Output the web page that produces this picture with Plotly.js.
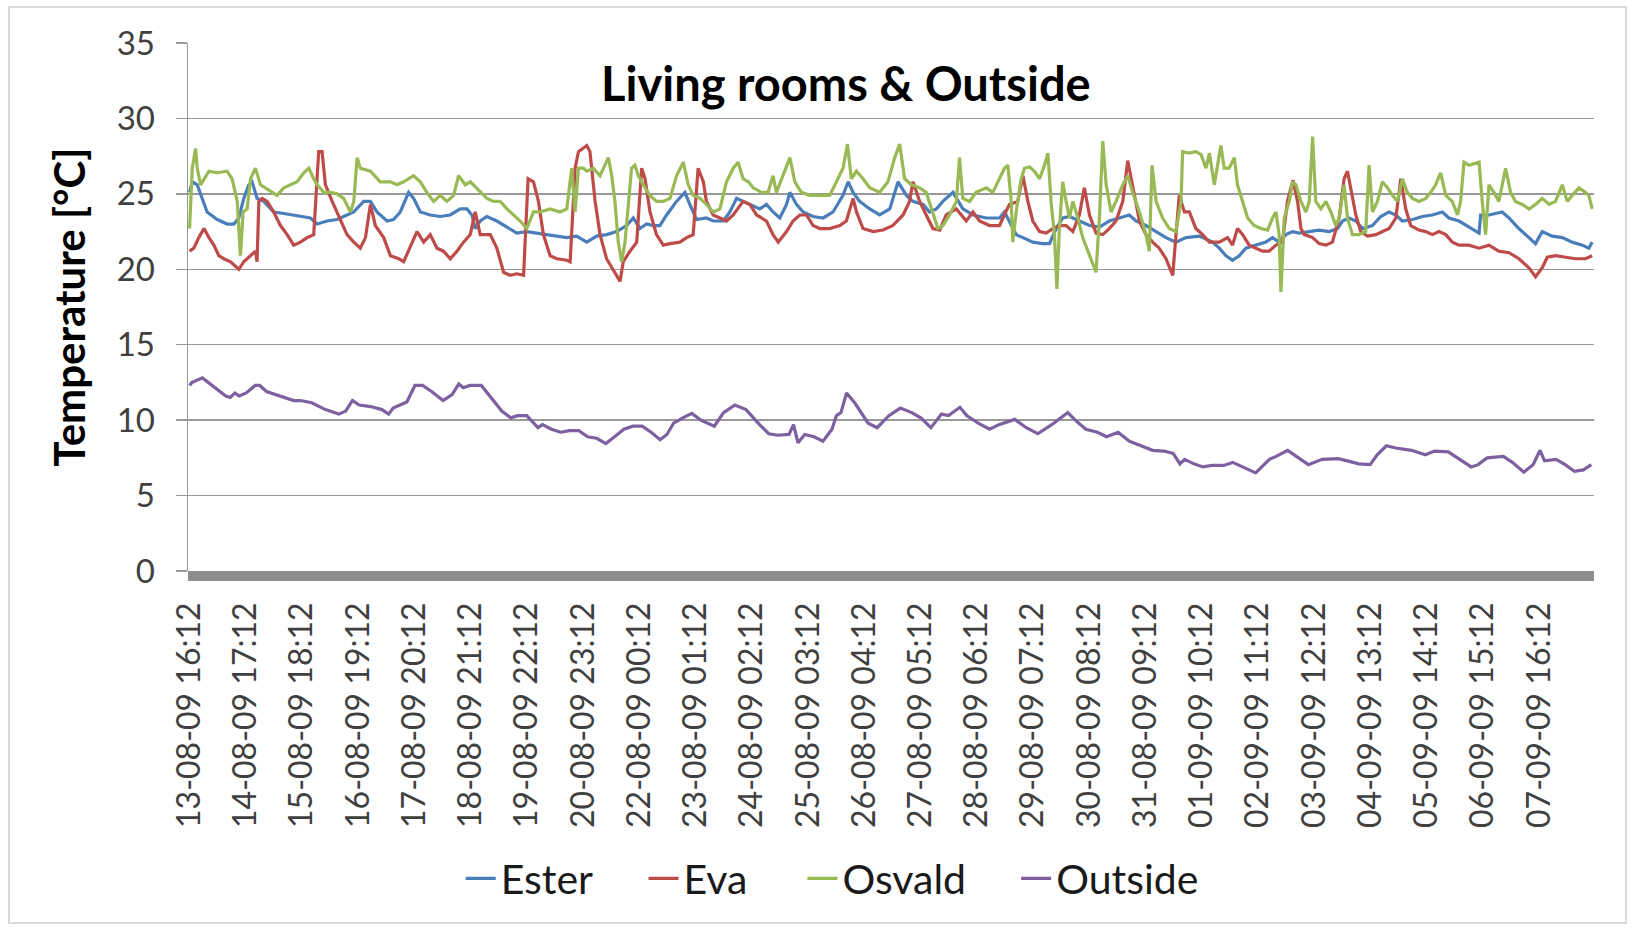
<!DOCTYPE html>
<html><head><meta charset="utf-8">
<script src="https://cdn.plot.ly/plotly-3.0.1.min.js"></script>
<style>
html,body{margin:0;padding:0;background:#fff;}
#chart{position:absolute;left:0;top:0;width:1633px;height:928px;}
#frame{position:absolute;left:8px;top:6px;width:1615px;height:914px;border:2px solid #d9d9d9;pointer-events:none;z-index:10;}
</style>
</head><body>
<div id="chart"></div><div id="frame"></div>
<script>
// Tick labels: one every 25 hourly readings
const tickLabels = ['13-08-09 16:12','14-08-09 17:12','15-08-09 18:12','16-08-09 19:12','17-08-09 20:12','18-08-09 21:12','19-08-09 22:12','20-08-09 23:12','22-08-09 00:12','23-08-09 01:12','24-08-09 02:12','25-08-09 03:12','26-08-09 04:12','27-08-09 05:12','28-08-09 06:12','29-08-09 07:12','30-08-09 08:12','31-08-09 09:12','01-09-09 10:12','02-09-09 11:12','03-09-09 12:12','04-09-09 13:12','05-09-09 14:12','06-09-09 15:12','07-09-09 16:12'];
const tickHours = [0,25,50,75,100,125,150,175,200,225,250,275,300,325,350,375,400,425,450,475,500,525,550,575,600];

// Hours since 13-08-09 16:12 and temperatures (°C)
const esterHours = [0,1.2,3.4,5.6,7.8,12.3,16.7,19.7,21.9,24.1,26.3,27.8,30.0,33.0,37.4,41.9,46.3,50.8,53.7,56.7,61.1,65.6,70.0,73.0,77.4,80.4,83.3,87.8,90.7,93.7,97.4,99.6,102.6,107.0,111.5,115.9,120.3,123.3,125.5,127.0,129.2,132.2,136.6,141.1,145.5,149.9,154.4,158.8,163.3,167.7,172.1,176.6,181.0,185.4,189.9,194.3,197.3,200.2,203.2,206.2,209.1,212.1,216.5,220.2,222.4,225.4,229.8,232.8,237.3,240.2,243.2,246.1,249.1,253.5,256.5,259.4,262.4,265.4,266.9,269.8,272.8,277.2,281.7,286.1,290.5,292.8,295.0,297.9,302.4,306.8,311.3,315.0,318.7,321.6,326.1,329.0,332.0,334.9,337.9,339.4,343.8,348.3,354.2,360.1,362.3,364.5,367.5,370.5,374.9,379.3,382.3,385.3,388.2,391.2,395.6,400.1,404.5,408.9,413.4,417.8,420.8,425.2,429.7,434.1,438.5,443.0,448.9,454.8,457.8,460.8,463.7,466.7,469.6,474.1,478.5,481.5,484.4,487.4,490.4,493.3,497.8,502.2,506.7,510.4,512.6,515.5,518.5,521.5,525.9,529.6,533.3,536.3,539.2,543.7,548.1,552.5,557.0,559.9,564.4,568.8,573.3,574.0,577.7,583.6,586.6,591.0,595.5,598.4,601.4,605.8,610.3,614.7,619.2,622.1,623.6];
const esterTemp = [25.1,25.8,25.6,24.7,23.8,23.3,23.0,23.0,23.4,24.7,25.6,25.8,24.7,24.5,23.8,23.7,23.6,23.5,23.4,23.0,23.2,23.3,23.6,23.8,24.5,24.5,23.8,23.2,23.3,23.8,25.1,24.7,23.8,23.6,23.5,23.6,24.0,24.0,23.6,22.7,23.2,23.5,23.2,22.8,22.4,22.5,22.4,22.3,22.2,22.1,22.2,21.8,22.2,22.3,22.5,22.9,23.4,22.7,23.0,22.9,22.9,23.6,24.5,25.1,24.3,23.3,23.4,23.2,23.2,23.8,24.7,24.5,24.3,24.0,24.3,23.8,23.4,24.3,25.1,24.3,23.8,23.5,23.4,23.8,24.9,25.8,25.1,24.5,24.0,23.6,24.0,25.8,24.9,24.5,24.3,23.8,24.0,24.5,24.9,25.1,24.0,23.6,23.4,23.4,23.8,23.2,22.3,22.1,21.8,21.7,21.7,22.7,23.4,23.5,23.2,22.9,22.8,23.2,23.4,23.6,23.2,22.9,22.5,22.1,21.8,22.1,22.2,21.8,21.4,20.9,20.6,20.9,21.4,21.6,21.8,22.1,21.8,22.3,22.5,22.4,22.5,22.6,22.5,22.7,23.2,23.4,23.2,22.7,22.9,23.5,23.8,23.6,23.2,23.3,23.5,23.6,23.8,23.4,23.2,22.8,22.4,23.6,23.6,23.8,23.4,22.7,22.1,21.7,22.5,22.2,22.1,21.8,21.6,21.4,21.8];

const evaHours = [0,1.9,4.1,6.4,8.6,10.8,13.0,15.2,18.2,21.9,24.1,27.1,29.3,30.0,30.8,32.3,34.5,37.4,40.4,43.4,46.3,49.3,52.3,55.2,57.4,58.9,60.4,63.4,67.1,70.0,73.0,75.9,78.2,80.4,82.6,86.3,89.3,93.0,95.2,97.4,101.1,104.1,107.0,110.0,112.9,115.9,118.9,121.8,124.8,127.0,129.2,133.7,136.6,139.6,142.5,145.5,148.5,150.5,152.9,155.1,157.3,160.3,163.3,167.7,169.2,171.4,172.9,176.6,178.0,180.3,182.5,185.4,188.4,191.4,192.8,195.8,198.8,201.0,202.5,204.7,207.6,210.6,213.6,218.0,221.0,223.9,226.1,228.4,229.8,232.8,235.8,238.7,241.7,246.1,249.1,252.1,256.5,259.4,261.7,265.4,268.3,271.3,274.3,277.2,280.2,284.6,289.1,292.0,295.0,296.5,299.4,303.9,308.3,312.7,317.2,320.1,321.6,324.6,327.5,330.5,333.5,336.4,340.9,345.3,348.3,351.2,355.7,360.1,361.6,364.5,368.2,370.5,372.7,374.9,377.9,380.8,383.8,386.7,389.7,392.7,395.6,397.8,400.1,403.0,406.0,408.9,411.9,414.9,417.1,419.3,422.3,425.2,428.2,431.1,434.1,437.1,438.5,440.0,442.3,444.5,447.4,450.4,453.4,457.8,461.5,463.7,465.9,468.2,471.1,474.1,477.0,480.0,483.0,485.9,488.1,490.6,492.6,494.1,495.6,499.3,502.2,505.2,508.1,511.1,513.3,514.8,516.3,518.5,520.7,523.7,527.4,530.3,533.3,536.3,538.5,540.7,542.9,546.6,549.6,552.5,555.5,558.5,561.4,564.4,568.8,573.3,577.7,582.1,586.6,591.0,595.5,598.4,601.4,603.6,607.3,611.8,616.2,620.6,623.6];
const evaTemp = [21.2,21.4,22.1,22.7,22.1,21.6,20.9,20.7,20.5,20.0,20.5,20.9,21.2,20.5,24.5,24.7,24.5,23.8,22.9,22.3,21.6,21.8,22.1,22.3,27.8,27.8,25.6,24.5,23.2,22.3,21.8,21.4,22.1,24.3,22.9,22.1,20.9,20.7,20.5,21.2,22.5,21.8,22.3,21.4,21.2,20.7,21.2,21.8,22.3,23.8,22.3,22.3,21.4,19.8,19.6,19.7,19.6,26.0,25.8,24.5,22.3,20.9,20.7,20.6,20.5,26.7,27.8,28.2,27.8,24.5,22.3,20.7,19.9,19.2,20.5,21.2,21.8,26.7,26.0,23.8,22.3,21.6,21.7,21.8,22.1,22.3,26.7,25.8,24.5,23.6,23.4,23.2,23.6,24.5,24.3,23.6,23.2,22.3,21.8,22.5,23.2,23.6,23.6,22.9,22.7,22.7,22.9,23.2,24.7,23.8,22.7,22.5,22.6,22.9,23.6,24.5,25.8,24.5,23.6,22.7,22.6,23.6,24.0,23.2,23.8,23.2,22.9,22.9,23.4,24.3,24.5,26.2,24.5,23.2,22.5,22.4,22.7,22.9,22.9,22.5,23.6,25.4,23.6,22.4,22.3,22.7,23.2,24.5,27.2,25.6,23.2,22.3,21.8,21.4,20.7,19.6,22.3,24.9,23.8,23.8,22.7,22.3,21.8,21.8,22.1,21.6,22.7,22.3,21.6,21.4,21.2,21.2,21.6,21.8,24.5,25.9,24.5,22.7,22.3,22.1,21.7,21.6,21.8,23.4,26.0,26.5,25.4,23.6,22.5,22.2,22.3,22.5,22.7,23.4,26.0,24.0,22.9,22.6,22.5,22.3,22.5,22.3,21.8,21.6,21.6,21.4,21.6,21.2,21.1,20.7,20.1,19.5,20.1,20.8,20.9,20.8,20.7,20.7,20.9];

const osvaldHours = [0,1.2,2.7,3.4,4.9,6.4,8.6,12.3,16.7,18.9,21.2,21.9,22.6,23.8,25.6,27.1,29.3,31.5,34.5,38.9,41.9,44.8,47.8,50.8,53.0,55.2,56.7,59.7,62.6,65.6,68.5,71.5,73.0,74.5,75.9,80.4,84.8,89.3,92.2,95.2,99.6,102.6,105.5,108.5,111.5,114.4,117.4,119.6,122.6,124.8,129.2,132.2,135.1,138.1,141.1,144.0,147.0,149.9,152.9,155.9,160.3,164.7,167.7,169.9,171.4,172.9,175.1,176.6,179.5,182.5,186.2,187.7,189.1,190.6,192.1,193.6,195.1,196.5,198.0,199.5,201.7,204.7,207.6,210.6,213.6,216.5,219.5,221.7,223.9,226.9,229.8,232.8,235.8,238.7,241.7,243.9,246.1,248.4,250.6,254.3,257.2,259.4,260.9,263.9,266.9,269.1,272.0,275.7,280.2,284.6,287.6,290.5,292.5,294.2,296.5,299.4,302.4,306.8,310.5,313.5,315.7,317.9,320.9,324.6,327.5,330.5,332.7,334.9,337.9,340.9,342.3,343.8,346.8,349.7,354.2,357.1,360.1,362.3,363.8,365.3,366.0,367.5,369.7,371.2,373.4,375.6,377.9,380.1,381.6,383.0,384.5,385.6,386.7,388.2,389.7,391.2,392.7,394.9,397.1,400.1,403.0,404.5,406.0,407.5,409.7,411.9,414.9,417.1,419.3,422.3,425.2,426.7,427.9,429.7,432.6,435.6,438.5,440.8,441.5,444.5,447.4,449.7,451.9,453.4,455.6,458.5,460.0,462.2,464.5,465.9,468.2,470.4,473.3,476.3,479.3,481.5,483.0,484.4,485.2,486.7,488.9,490.4,491.9,494.1,496.3,497.8,499.3,500.7,503.0,505.2,507.4,509.6,511.1,513.3,514.8,517.0,520.0,522.9,524.4,525.9,528.1,530.3,532.6,534.8,537.0,539.2,541.4,543.7,546.6,549.6,551.8,554.0,556.2,558.5,561.4,563.7,565.1,566.6,568.8,571.1,573.3,574.7,576.2,577.7,579.9,582.1,585.1,587.3,589.5,592.5,595.5,598.4,601.4,604.4,607.3,610.3,612.5,614.7,617.7,620.6,622.1,623.6];
const osvaldTemp = [22.7,26.7,28.0,26.7,25.6,26.0,26.5,26.4,26.5,26.0,24.5,22.7,20.9,23.8,24.0,26.0,26.7,25.6,25.3,24.9,25.4,25.6,25.8,26.4,26.7,26.0,25.6,25.1,25.1,25.0,24.7,23.8,24.5,27.4,26.7,26.5,25.8,25.8,25.6,25.8,26.2,25.8,25.1,24.5,24.9,24.5,24.9,26.2,25.6,25.8,25.1,24.7,24.5,24.5,24.0,23.6,23.2,22.7,23.8,23.8,24.0,23.8,24.0,26.7,23.8,26.7,26.7,26.5,26.7,26.2,27.4,26.2,24.5,21.8,20.5,21.8,24.5,26.7,26.9,26.2,25.6,24.9,24.5,24.5,24.7,26.2,27.1,25.6,24.9,24.7,24.3,23.8,24.0,25.8,26.7,27.1,26.0,25.8,25.4,25.1,25.1,26.2,25.1,26.2,27.4,25.8,25.1,24.9,24.9,24.9,25.8,26.7,28.3,26.0,26.5,26.0,25.4,25.1,25.8,27.4,28.3,26.0,25.6,25.4,25.1,23.8,22.7,22.9,23.6,24.5,27.4,24.7,24.5,25.1,25.4,25.1,26.0,26.7,26.9,24.5,21.8,23.8,26.0,26.7,26.8,26.5,26.0,26.9,27.7,24.5,22.3,18.7,22.7,25.8,24.5,23.4,24.5,23.4,22.1,20.9,19.8,23.4,28.5,25.6,23.8,24.5,25.6,26.2,25.1,23.8,22.3,21.2,26.9,24.5,23.4,22.7,22.5,24.5,27.8,27.7,27.8,27.6,26.7,27.7,25.6,28.2,26.7,26.7,27.4,25.6,24.5,23.4,22.9,22.7,22.6,23.4,23.8,22.3,18.5,23.4,24.5,25.8,25.6,24.5,23.8,24.5,28.8,24.5,24.0,24.5,23.8,22.9,23.4,25.6,23.4,22.3,22.3,22.5,26.9,23.8,24.5,25.8,25.4,24.9,24.5,26.0,25.1,24.7,24.5,24.7,25.1,25.6,26.4,24.9,24.5,23.6,24.5,27.1,26.9,27.0,27.1,24.5,22.3,25.6,25.1,24.5,26.7,25.1,24.5,24.3,24.0,24.3,24.7,24.3,24.5,25.6,24.5,24.9,25.4,25.1,24.9,24.0];

const outsideHours = [0,1.0,5.7,10.1,16.1,18.1,20.1,22.1,25.2,29.2,31.2,34.2,40.2,46.3,49.3,54.3,60.4,66.4,69.4,72.4,75.4,80.5,85.5,88.5,90.5,93.5,96.6,100.2,103.6,107.6,112.7,116.7,119.7,121.7,124.7,129.7,134.8,138.8,142.8,145.8,149.9,151.9,154.9,156.9,160.9,164.9,169.0,173.0,177.0,181.0,185.1,188.1,193.1,197.1,201.2,205.2,209.2,212.2,215.2,219.3,223.3,227.3,233.3,237.4,242.4,247.4,253.4,257.5,261.5,266.5,268.5,270.5,273.5,277.6,281.6,285.6,287.6,289.6,292.1,295.7,301.7,305.7,310.9,316.0,321.1,325.1,329.6,334.3,337.4,342.5,345.5,350.6,355.7,359.8,366.9,372.0,377.1,383.3,390.4,394.5,398.5,403.6,407.7,412.8,417.9,423.0,428.1,433.2,437.3,440.3,442.4,446.5,450.5,454.6,459.7,463.8,468.9,474.0,480.1,483.1,488.2,492.3,497.4,503.5,510.7,514.8,519.8,524.9,528.0,532.1,536.2,543.3,549.4,553.5,559.6,564.7,569.8,572.9,576.9,584.1,588.1,593.2,597.3,600.4,602.4,607.5,611.6,615.7,619.7,623.2];
const outsideTemp = [12.3,12.5,12.8,12.3,11.6,11.5,11.8,11.6,11.8,12.3,12.3,11.9,11.6,11.3,11.3,11.15,10.7,10.4,10.6,11.3,11.0,10.9,10.7,10.4,10.8,11.0,11.2,12.3,12.3,11.9,11.3,11.7,12.4,12.15,12.3,12.3,11.3,10.6,10.15,10.3,10.3,10.0,9.5,9.7,9.4,9.2,9.3,9.3,8.9,8.8,8.45,8.8,9.4,9.6,9.6,9.2,8.7,9.05,9.8,10.15,10.45,10.0,9.6,10.5,11.0,10.7,9.7,9.1,9.0,9.05,9.7,8.5,9.05,8.9,8.6,9.4,10.3,10.5,11.8,11.15,9.8,9.5,10.3,10.8,10.5,10.15,9.5,10.4,10.3,10.85,10.3,9.8,9.4,9.7,10.05,9.5,9.1,9.7,10.5,9.9,9.4,9.2,8.9,9.2,8.6,8.3,8.0,7.95,7.8,7.1,7.4,7.1,6.9,7.0,7.0,7.2,6.85,6.5,7.4,7.6,8.0,7.6,7.05,7.4,7.45,7.3,7.1,7.05,7.7,8.3,8.15,8.0,7.7,7.95,7.9,7.4,6.9,7.05,7.5,7.6,7.2,6.55,7.05,8.0,7.3,7.4,7.05,6.6,6.7,7.05];

const FONT = 'Lato, "Open Sans", sans-serif';
function series(name, x, y, color, legendId) {
  return {type:'scatter', mode:'lines', name:name, x:x, y:y, legend:legendId,
          line:{color:color, width:3.2}, hoverinfo:'skip'};
}
const traces = [
  series('Ester', esterHours, esterTemp, '#4A7EBB', 'legend'),
  series('Eva', evaHours, evaTemp, '#BE4B48', 'legend2'),
  series('Osvald', osvaldHours, osvaldTemp, '#98B954', 'legend3'),
  series('Outside', outsideHours, outsideTemp, '#7D60A0', 'legend4')
];

function legendAt(x) {
  return {orientation:'h', x:x, xanchor:'left', y:-0.583, yanchor:'middle',
          font:{family:FONT, size:41, color:'#1a1a1a'}, bgcolor:'rgba(0,0,0,0)',
          borderwidth:0, itemwidth:30};
}

const layout = {
  width:1633, height:928,
  margin:{l:188, r:39, t:43, b:357, pad:0},
  paper_bgcolor:'#ffffff', plot_bgcolor:'#ffffff',
  font:{family:FONT, color:'#404040'},
  showlegend:true,
  title:{text:'Living rooms & Outside', xref:'container', yref:'container',
         x:0.518, y:0.909, xanchor:'center', yanchor:'middle',
         font:{family:FONT, size:47, weight:700, color:'#000000'}},
  xaxis:{type:'linear', range:[-0.7, 624.4], tickmode:'array',
         tickvals:tickHours, ticktext:tickLabels, tickangle:-90,
         tickfont:{family:FONT, size:32, color:'#404040'},
         showgrid:false, zeroline:false, showline:false, ticks:'',
         ticklabelstandoff:24, fixedrange:true},
  yaxis:{range:[0,35], tick0:0, dtick:5, showgrid:true, gridcolor:'#999999', gridwidth:1.4,
         showline:true, linecolor:'#999999', linewidth:1.4,
         ticks:'outside', ticklen:11, tickcolor:'#999999', tickwidth:1.4,
         tickfont:{family:FONT, size:33, color:'#404040'}, ticklabelstandoff:14,
         zeroline:false, fixedrange:true,
         title:{text:'Temperature [°C]', standoff:18,
                font:{family:FONT, size:42, weight:700, color:'#000000'}}},
  legend:legendAt(0.194),
  legend2:legendAt(0.324),
  legend3:legendAt(0.437),
  legend4:legendAt(0.589),
  shapes:[{type:'rect', xref:'paper', yref:'paper', x0:0, x1:1,
           ysizemode:'pixel', yanchor:0, y0:-10, y1:0,
           fillcolor:'#8c8c8c', line:{width:0}, layer:'above'}]
};

Plotly.newPlot('chart', traces, layout, {displayModeBar:false, staticPlot:true});
</script>
</body></html>
